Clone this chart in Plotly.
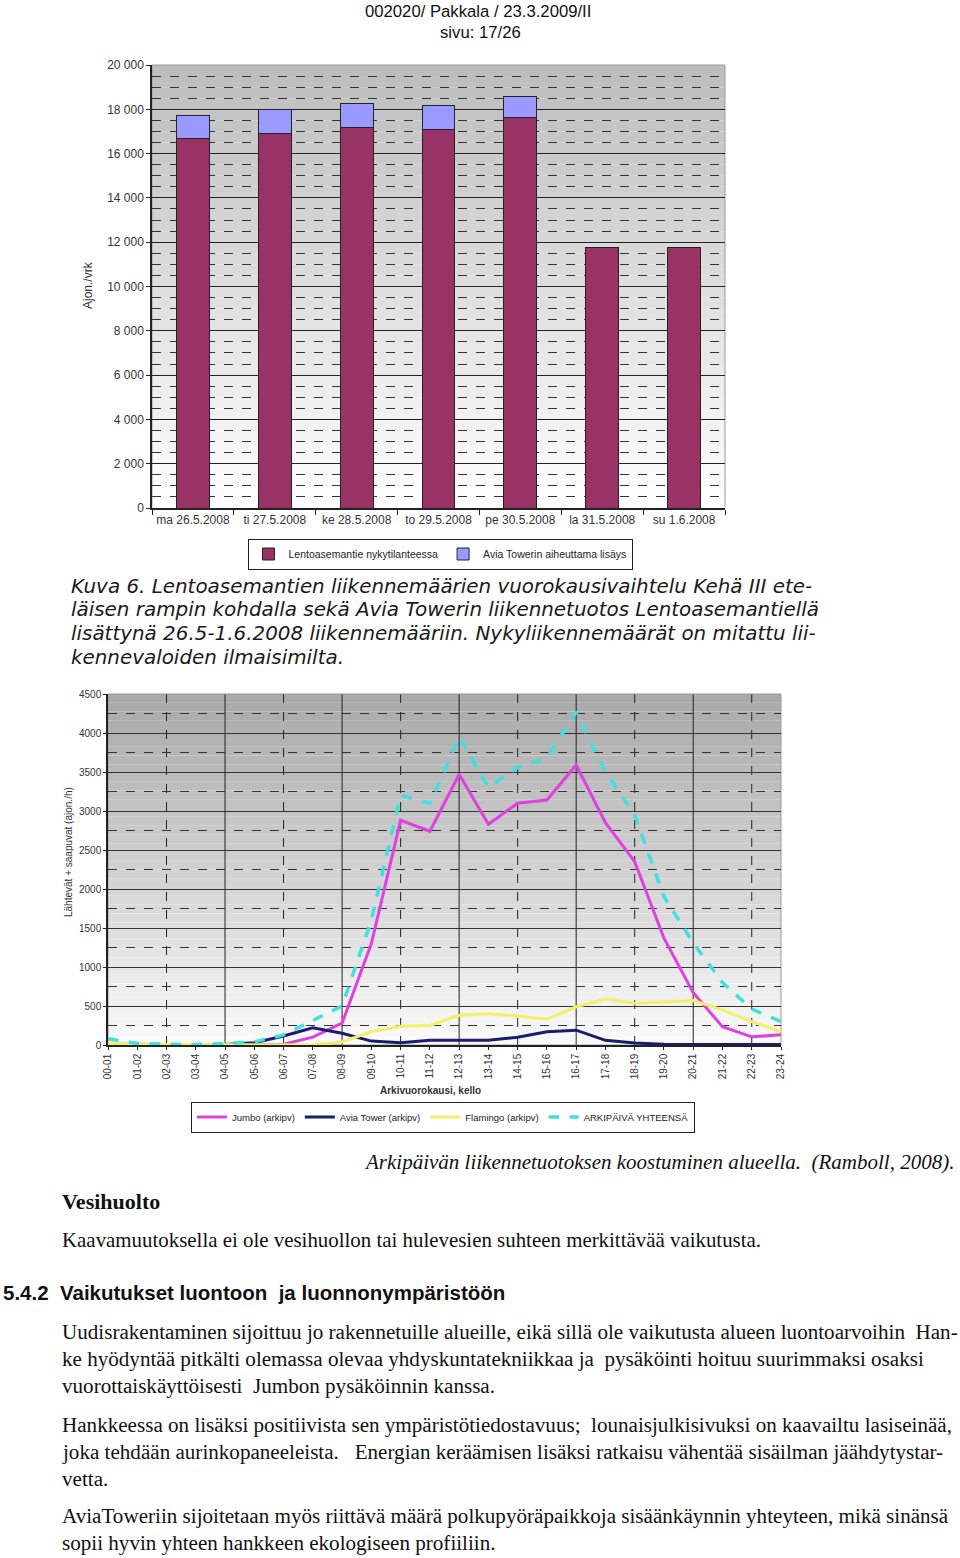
import plotly.graph_objects as go

W, H = 960, 1558

# chart 1: Lentoasemantie, vuorokausiliikenne
days = ["ma 26.5.2008", "ti 27.5.2008", "ke 28.5.2008", "to 29.5.2008",
        "pe 30.5.2008", "la 31.5.2008", "su 1.6.2008"]
nykytilanne = [16700, 16930, 17200, 17110, 17610, 11780, 11780]
avia_lisays = [1040, 1040, 1080, 1040, 990, 0, 0]

# chart 2: arkipäivän tuntiliikenne
hours = ["00-01", "01-02", "02-03", "03-04", "04-05", "05-06", "06-07", "07-08",
         "08-09", "09-10", "10-11", "11-12", "12-13", "13-14", "14-15", "15-16",
         "16-17", "17-18", "18-19", "19-20", "20-21", "21-22", "22-23", "23-24"]
jumbo = [0, 0, 0, 0, 0, 0, 10, 100, 280, 1300, 2880, 2740, 3470, 2830,
         3100, 3140, 3590, 2850, 2350, 1370, 670, 235, 105, 130]
avia = [10, 5, 5, 5, 5, 30, 115, 220, 150, 50, 30, 60, 60, 60,
        100, 170, 190, 60, 25, 10, 5, 5, 5, 5]
flamingo = [20, 10, 5, 5, 5, 0, 0, 0, 40, 170, 240, 250, 380, 400,
            370, 330, 490, 590, 535, 555, 570, 450, 300, 170]
yhteensa = [80, 20, 10, 5, 20, 40, 130, 320, 500, 1600, 3200, 3100, 3950, 3300,
            3560, 3680, 4270, 3500, 2950, 1900, 1310, 800, 460, 300]


def py(y):
    # page pixel -> paper
    return 1 - y / H


def px(x):
    return x / W


SANS = "Liberation Sans, Arial, sans-serif"
SERIF = "Liberation Serif, Times New Roman, serif"

fig = go.Figure()

# bars
fig.add_trace(go.Bar(x=days, y=nykytilanne, name="Lentoasemantie nykytilanteessa",
                     marker=dict(color="#993366", line=dict(color="#222", width=1)),
                     xaxis="x", yaxis="y", legend="legend"))
fig.add_trace(go.Bar(x=days, y=avia_lisays, name="Avia Towerin aiheuttama lisäys",
                     marker=dict(color="#9999ff", line=dict(color="#222", width=1)),
                     xaxis="x", yaxis="y", legend="legend"))

# lines
xi = list(range(len(hours)))
fig.add_trace(go.Scatter(x=xi, y=jumbo, mode="lines", name="Jumbo (arkipv)",
                         line=dict(color="#e040e0", width=3),
                         xaxis="x2", yaxis="y2", legend="legend2"))
fig.add_trace(go.Scatter(x=xi, y=avia, mode="lines", name="Avia Tower (arkipv)",
                         line=dict(color="#1c1c70", width=3),
                         xaxis="x2", yaxis="y2", legend="legend2"))
fig.add_trace(go.Scatter(x=xi, y=flamingo, mode="lines", name="Flamingo (arkipv)",
                         line=dict(color="#f2f064", width=3),
                         xaxis="x2", yaxis="y2", legend="legend2"))
fig.add_trace(go.Scatter(x=xi, y=yhteensa, mode="lines", name="ARKIPÄIVÄ YHTEENSÄ",
                         line=dict(color="#3ee0e0", width=3.5, dash="dash"),
                         xaxis="x2", yaxis="y2", legend="legend2"))

shapes = []


def gradient(xref, yref, top_rgb, bottom_rgb, n=40):
    for k in range(n):
        t = (k + 0.5) / n
        c = [round(top_rgb[i] + (bottom_rgb[i] - top_rgb[i]) * t) for i in range(3)]
        shapes.append(dict(type="rect", xref=xref + " domain", yref=yref + " domain",
                           x0=0, x1=1, y0=1 - k / n, y1=1 - (k + 1) / n,
                           fillcolor="rgb(%d,%d,%d)" % tuple(c), line=dict(width=0),
                           layer="below"))


gradient("x", "y", (188, 188, 188), (255, 255, 255))
gradient("x2", "y2", (168, 168, 168), (250, 250, 250))

# vertical grid of the hourly chart
for k in range(2, len(hours) - 1, 2):
    shapes.append(dict(type="line", xref="x2", yref="y2 domain", x0=k, x1=k, y0=0, y1=1,
                       line=dict(color="#222", width=1,
                                 dash="solid" if k % 4 == 0 else "dash"),
                       layer="below"))

# outline of plot areas
for xr, yr in (("x", "y"), ("x2", "y2")):
    shapes.append(dict(type="rect", xref=xr + " domain", yref=yr + " domain",
                       x0=0, x1=1, y0=0, y1=1, line=dict(color="#999", width=1),
                       layer="below"))

fig.update_layout(
    width=W, height=H, margin=dict(l=0, r=0, t=0, b=0, autoexpand=False),
    paper_bgcolor="white", plot_bgcolor="white",
    separators=", ", barmode="stack", bargap=0.6,
    font=dict(family=SANS, color="#222"),
    shapes=shapes,
    xaxis=dict(domain=[px(152), px(725)], anchor="y", tickson="boundaries",
               ticks="outside", ticklen=5, tickcolor="#222", showline=True,
               linecolor="#222", linewidth=1.5, showgrid=False, tickangle=0,
               automargin=False, tickfont=dict(size=12, color="#333")),
    yaxis=dict(domain=[py(508), py(65)], anchor="x", range=[0, 20000], dtick=2000,
               tickformat=",d", ticks="outside", ticklen=4, tickcolor="#222",
               showline=True, linecolor="#222", linewidth=1.5,
               gridcolor="#222", gridwidth=1.3, automargin=False,
               minor=dict(dtick=500, showgrid=True, gridcolor="#333", gridwidth=1.3,
                          griddash="dash"),
               tickfont=dict(size=12, color="#333")),
    xaxis2=dict(domain=[px(108), px(781)], anchor="y2", range=[0, 23],
                tickvals=xi, ticktext=hours, tickangle=-90, ticks="outside",
                ticklen=3, tickcolor="#222", showline=True, linecolor="#222",
                linewidth=1.5, showgrid=False, zeroline=False, automargin=False,
                tickfont=dict(size=10, color="#333")),
    yaxis2=dict(domain=[py(1045), py(694)], anchor="x2", range=[0, 4500], dtick=500,
                ticks="outside", ticklen=3, tickcolor="#222", showline=True,
                linecolor="#222", linewidth=1.5, gridcolor="#333", gridwidth=1,
                zeroline=False, automargin=False,
                minor=dict(dtick=250, showgrid=True, gridcolor="#333", gridwidth=1.2,
                           griddash="dash"),
                tickfont=dict(size=10, color="#333")),
    legend=dict(orientation="h", x=px(440), xanchor="center", y=py(554),
                yanchor="middle", bordercolor="#222", borderwidth=1, bgcolor="white",
                font=dict(size=10.5, color="#222"), itemwidth=30, tracegroupgap=0,
                traceorder="normal"),
    legend2=dict(orientation="h", x=px(443), xanchor="center", y=py(1117),
                 yanchor="middle", bordercolor="#222", borderwidth=1, bgcolor="white",
                 font=dict(size=9.5, color="#222"), itemwidth=30, traceorder="normal"),
)

ann = []


def text(x, y, s, size, family=SANS, xanchor="left", color="#111", angle=0, **kw):
    ann.append(dict(x=px(x), y=py(y), xref="paper", yref="paper", text=s,
                    showarrow=False, xanchor=xanchor, yanchor="middle",
                    textangle=angle, font=dict(size=size, family=family, color=color),
                    **kw))


# page header
text(478, 11, "002020/ Pakkala / 23.3.2009/II", 16.7, xanchor="center")
text(480, 33, "sivu: 17/26", 16.7, xanchor="center")

# axis titles
text(88, 285, "Ajon./vrk", 12, xanchor="center", angle=-90, color="#333")
text(68, 852, "Lähtevät + saapuvat (ajon./h)", 10, xanchor="center", angle=-90,
     color="#333")
text(430, 1090, "<b>Arkivuorokausi, kello</b>", 10, xanchor="center", color="#333")

# figure caption
CAP = "DejaVu Sans, Verdana, sans-serif"
caption = ["Kuva 6. Lentoasemantien liikennemäärien vuorokausivaihtelu Kehä III ete-",
           "läisen rampin kohdalla sekä Avia Towerin liikennetuotos Lentoasemantiellä",
           "lisättynä 26.5-1.6.2008 liikennemääriin. Nykyliikennemäärät on mitattu lii-",
           "kennevaloiden ilmaisimilta."]
for i, line in enumerate(caption):
    text(69, 586 + i * 23.8, "<i>" + line + "</i>", 19.9, family=CAP, color="#1a1a1a")

text(956, 1162, "<i>Arkipäivän liikennetuotoksen koostuminen alueella.  (Ramboll, 2008).</i>",
     21, family=SERIF, xanchor="right")
text(60, 1201, "<b>Vesihuolto</b>", 22, family=SERIF)
text(60, 1240, "Kaavamuutoksella ei ole vesihuollon tai hulevesien suhteen merkittävää vaikutusta.",
     20.9, family=SERIF)
text(1, 1292, "<b>5.4.2  Vaikutukset luontoon  ja luonnonympäristöön</b>", 20.5,
     family="Liberation Sans Narrow, Liberation Sans, Arial, sans-serif")

paragraphs = [
    (1332, ["Uudisrakentaminen sijoittuu jo rakennetuille alueille, eikä sillä ole vaikutusta alueen luontoarvoihin  Han-",
            "ke hyödyntää pitkälti olemassa olevaa yhdyskuntatekniikkaa ja  pysäköinti hoituu suurimmaksi osaksi",
            "vuorottaiskäyttöisesti  Jumbon pysäköinnin kanssa."]),
    (1425, ["Hankkeessa on lisäksi positiivista sen ympäristötiedostavuus;  lounaisjulkisivuksi on kaavailtu lasiseinää,",
            "joka tehdään aurinkopaneeleista.   Energian keräämisen lisäksi ratkaisu vähentää sisäilman jäähdytystar-",
            "vetta."]),
    (1516, ["AviaToweriin sijoitetaan myös riittävä määrä polkupyöräpaikkoja sisäänkäynnin yhteyteen, mikä sinänsä",
            "sopii hyvin yhteen hankkeen ekologiseen profiiliin."]),
]
for y0, lines in paragraphs:
    for i, line in enumerate(lines):
        text(60, y0 + i * 26.8, line, 21.1, family=SERIF)

fig.update_layout(annotations=ann)

# drop the browser's default body margin so the figure fills the window exactly
fig.write_html("out.html", config={"displayModeBar": False},
               post_script="document.body.style.margin = '0px';")
